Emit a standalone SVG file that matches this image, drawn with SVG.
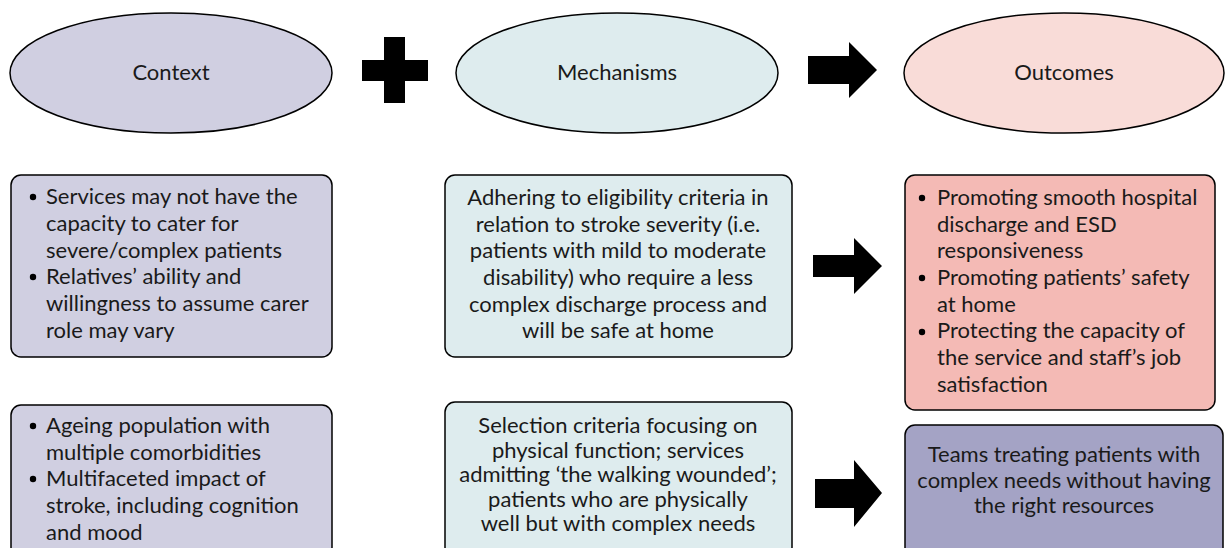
<svg xmlns="http://www.w3.org/2000/svg" width="1225" height="548" viewBox="0 0 1225 548">
<style>
text{font-family:Lato,"Open Sans","Liberation Sans",sans-serif;font-size:22px;fill:#1a1a1a}
.c{text-anchor:middle}
.node{stroke:#000;stroke-width:1.5}
.ctx{fill:#d0cfe1}
.mech{fill:#deecee}
.out{fill:#f9dcd8}
.out1{fill:#f4bab5}
.out2{fill:#a4a3c5}
.arr{fill:#000}
</style>
<rect width="1225" height="548" fill="#fff"/>
<g id="context-header"><ellipse class="node ctx" cx="171" cy="73" rx="161" ry="60"/><text class="c" x="171" y="80">Context</text></g>
<g id="mechanisms-header"><ellipse class="node mech" cx="617" cy="73" rx="161" ry="60"/><text class="c" x="617" y="80">Mechanisms</text></g>
<g id="outcomes-header"><ellipse class="node out" cx="1064" cy="73" rx="160" ry="60"/><text class="c" x="1064" y="80">Outcomes</text></g>
<g id="context-1"><rect class="node ctx" x="11" y="175" width="321" height="182" rx="10"/>
<circle cx="33" cy="197" r="3.2"/><circle cx="33" cy="277" r="3.2"/>
<text x="46" y="204">Services may not have the</text>
<text x="46" y="231">capacity to cater for</text>
<text x="46" y="258">severe/complex patients</text>
<text x="46" y="284">Relatives’ ability and</text>
<text x="46" y="311">willingness to assume carer</text>
<text x="46" y="338">role may vary</text></g>
<g id="context-2"><rect class="node ctx" x="11" y="405" width="321" height="152" rx="10"/>
<circle cx="33" cy="426" r="3.2"/><circle cx="33" cy="479" r="3.2"/>
<text x="46" y="433">Ageing population with</text>
<text x="46" y="460">multiple comorbidities</text>
<text x="46" y="486">Multifaceted impact of</text>
<text x="46" y="513">stroke, including cognition</text>
<text x="46" y="540">and mood</text></g>
<g id="mechanisms-1"><rect class="node mech" x="445" y="175" width="347" height="182" rx="10"/>
<text class="c" x="618" y="205">Adhering to eligibility criteria in</text>
<text class="c" x="618" y="231.7">relation to stroke severity (i.e.</text>
<text class="c" x="618" y="258.3">patients with mild to moderate</text>
<text class="c" x="618" y="285">disability) who require a less</text>
<text class="c" x="618" y="311.7">complex discharge process and</text>
<text class="c" x="618" y="338.3">will be safe at home</text></g>
<g id="mechanisms-2"><rect class="node mech" x="445" y="402" width="347" height="155" rx="10"/>
<text class="c" x="618" y="433">Selection criteria focusing on</text>
<text class="c" x="618" y="457.5">physical function; services</text>
<text class="c" x="618" y="482">admitting ‘the walking wounded’;</text>
<text class="c" x="618" y="506.5">patients who are physically</text>
<text class="c" x="618" y="531">well but with complex needs</text></g>
<g id="outcomes-1"><rect class="node out1" x="905" y="175" width="310" height="235" rx="10"/>
<circle cx="922" cy="198" r="3.2"/><circle cx="922" cy="278" r="3.2"/><circle cx="922" cy="332" r="3.2"/>
<text x="937" y="205">Promoting smooth hospital</text>
<text x="937" y="231.7">discharge and ESD</text>
<text x="937" y="258.3">responsiveness</text>
<text x="937" y="285">Promoting patients’ safety</text>
<text x="937" y="311.7">at home</text>
<text x="937" y="338.3">Protecting the capacity of</text>
<text x="937" y="365">the service and staff’s job</text>
<text x="937" y="391.7">satisfaction</text></g>
<g id="outcomes-2"><rect class="node out2" x="905" y="425" width="318" height="140" rx="10"/>
<text class="c" x="1064" y="462">Teams treating patients with</text>
<text class="c" x="1064" y="487.5">complex needs without having</text>
<text class="c" x="1064" y="513">the right resources</text></g>
<g id="connectors">
<path class="arr" d="M384 37h21v23h23v21h-23v22h-21v-22h-22v-21h22z"/>
<path class="arr" d="M808 56h41v-14l28 28l-28 28v-14h-41z"/>
<path class="arr" d="M813 255h41v-17l28 28l-28 28v-17h-41z"/>
<path class="arr" d="M815 479h39v-19l28 33l-28 34v-19h-39z"/>
</g>
</svg>
